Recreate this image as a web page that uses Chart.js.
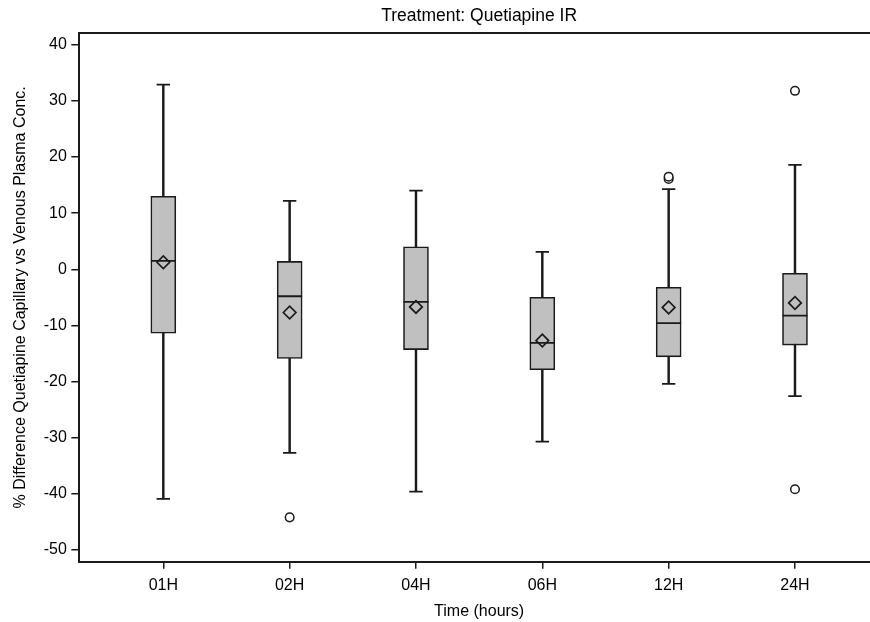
<!DOCTYPE html>
<html><head><meta charset="utf-8">
<script src="https://cdn.jsdelivr.net/npm/chart.js@4/dist/chart.umd.min.js"></script>
<style>
html,body{margin:0;padding:0;overflow:hidden;background:#fff;width:870px;height:622px}
#wrap{position:absolute;left:0;top:0;width:879px;height:622px}
canvas{display:block}
</style>
</head><body><div id="wrap"><canvas id="c" width="879" height="622" style="width:879px;height:622px"></canvas></div>
<script>
const chartTitle = 'Treatment: Quetiapine IR';
const xTitle = 'Time (hours)';
const yTitle = '% Difference Quetiapine Capillary vs Venous Plasma Conc.';
const categories = ['01H', '02H', '04H', '06H', '12H', '24H'];
const whiskerLow  = [-40.9, -32.7, -39.6, -30.7, -20.4, -22.6];
const q1          = [-11.4, -15.9, -14.3, -17.9, -15.6, -13.5];
const median      = [1.5, -4.8, -5.8, -13.1, -9.6, -8.25];
const q3          = [13.0, 1.4, 4.0, -5.0, -3.2, -0.7];
const whiskerHigh = [32.9, 12.2, 14.0, 3.1, 14.3, 18.6];
const mean        = [1.25, -7.7, -6.7, -12.7, -6.8, -6.0];
const outlierCats = ['02H', '12H', '12H', '24H', '24H'];
const outlierVals = [-44.2, 16.1, 16.5, 31.8, -39.2];
const yTicks = [-50, -40, -30, -20, -10, 0, 10, 20, 30, 40];
const yMin = -52.1, yMax = 42.1;

const idx = categories.map((c, i) => i);
const FONT = "'Liberation Sans', Arial, sans-serif";
const INK = '#1a1a1a';
Chart.defaults.font.family = FONT;
Chart.defaults.color = '#000';

const xMin = -0.665, xMax = categories.length - 1 + 0.665;

new Chart(document.getElementById('c'), {
  type: 'bar',
  data: {
    datasets: [
      { type: 'bar', data: idx.map(i => ({x: i, y: [whiskerLow[i], whiskerHigh[i]]})),
        backgroundColor: INK, borderWidth: 0, barThickness: 1.8, grouped: false, order: 6 },
      { type: 'bar', data: idx.map(i => ({x: i, y: [q1[i], q3[i]]})),
        backgroundColor: '#c0c0c0', borderColor: INK, borderWidth: 1.6, borderSkipped: false,
        barThickness: 25, grouped: false, order: 5 },
      { type: 'line', showLine: false, data: idx.map(i => ({x: i, y: median[i]})),
        pointStyle: 'line', pointRadius: 12.5, pointBorderWidth: 1.8, pointBorderColor: INK, order: 4 },
      { type: 'line', showLine: false,
        data: idx.map(i => ({x: i, y: whiskerHigh[i]})).concat(idx.map(i => ({x: i, y: whiskerLow[i]}))),
        pointStyle: 'line', pointRadius: 6.7, pointBorderWidth: 1.8, pointBorderColor: INK, order: 4 },
      { type: 'line', showLine: false, data: idx.map(i => ({x: i, y: mean[i]})),
        pointStyle: 'rectRot', pointRadius: 6.3, pointBorderWidth: 1.7, pointBorderColor: INK,
        pointBackgroundColor: 'rgba(0,0,0,0)', order: 2 },
      { type: 'line', showLine: false,
        data: outlierVals.map((v, k) => ({x: categories.indexOf(outlierCats[k]), y: v})),
        pointStyle: 'circle', pointRadius: 4.3, pointBorderWidth: 1.5, pointBorderColor: INK,
        pointBackgroundColor: '#fff', order: 1 }
    ]
  },
  options: {
    responsive: false, animation: false,
    layout: { padding: 0, autoPadding: false },
    plugins: { legend: { display: false }, tooltip: { enabled: false }, title: { display: false } },
    scales: {
      x: {
        type: 'linear', position: 'bottom', min: xMin, max: xMax, offset: false,
        afterBuildTicks: s => { s.ticks = idx.map(v => ({value: v})); },
        afterFit: s => { s.height = 622 - 561.7; },
        ticks: { callback: v => categories[v], font: { size: 16 }, padding: 7, autoSkip: false, maxRotation: 0, color: '#000' },
        grid: { display: true, offset: false, drawOnChartArea: false, drawTicks: true, tickLength: 7, color: INK, lineWidth: 1.5 },
        border: { display: true, color: INK, width: 2 },
        title: { display: true, text: xTitle, font: { size: 16 }, color: '#000', padding: { top: 0, bottom: 1 } }
      },
      x2: {
        type: 'linear', position: 'top', min: xMin, max: xMax, offset: false,
        afterFit: s => { s.height = 33; },
        ticks: { display: false },
        grid: { display: false, offset: false },
        border: { display: true, color: INK, width: 2 },
        title: { display: true, text: chartTitle, font: { size: 17.5 }, color: '#000', padding: { top: 6, bottom: 0 } }
      },
      y: {
        type: 'linear', position: 'left', min: yMin, max: yMax,
        afterBuildTicks: s => { s.ticks = yTicks.map(v => ({value: v})); },
        afterFit: s => { s.width = 79.3; },
        ticks: { font: { size: 16 }, padding: 4.5, color: '#000' },
        grid: { display: true, drawOnChartArea: false, drawTicks: true, tickLength: 8, color: INK, lineWidth: 1.5 },
        border: { display: true, color: INK, width: 2 },
        title: { display: true, text: yTitle, font: { size: 16 }, color: '#000', padding: { top: 11, bottom: 0 } }
      }
    }
  }
});
</script>
</body></html>
